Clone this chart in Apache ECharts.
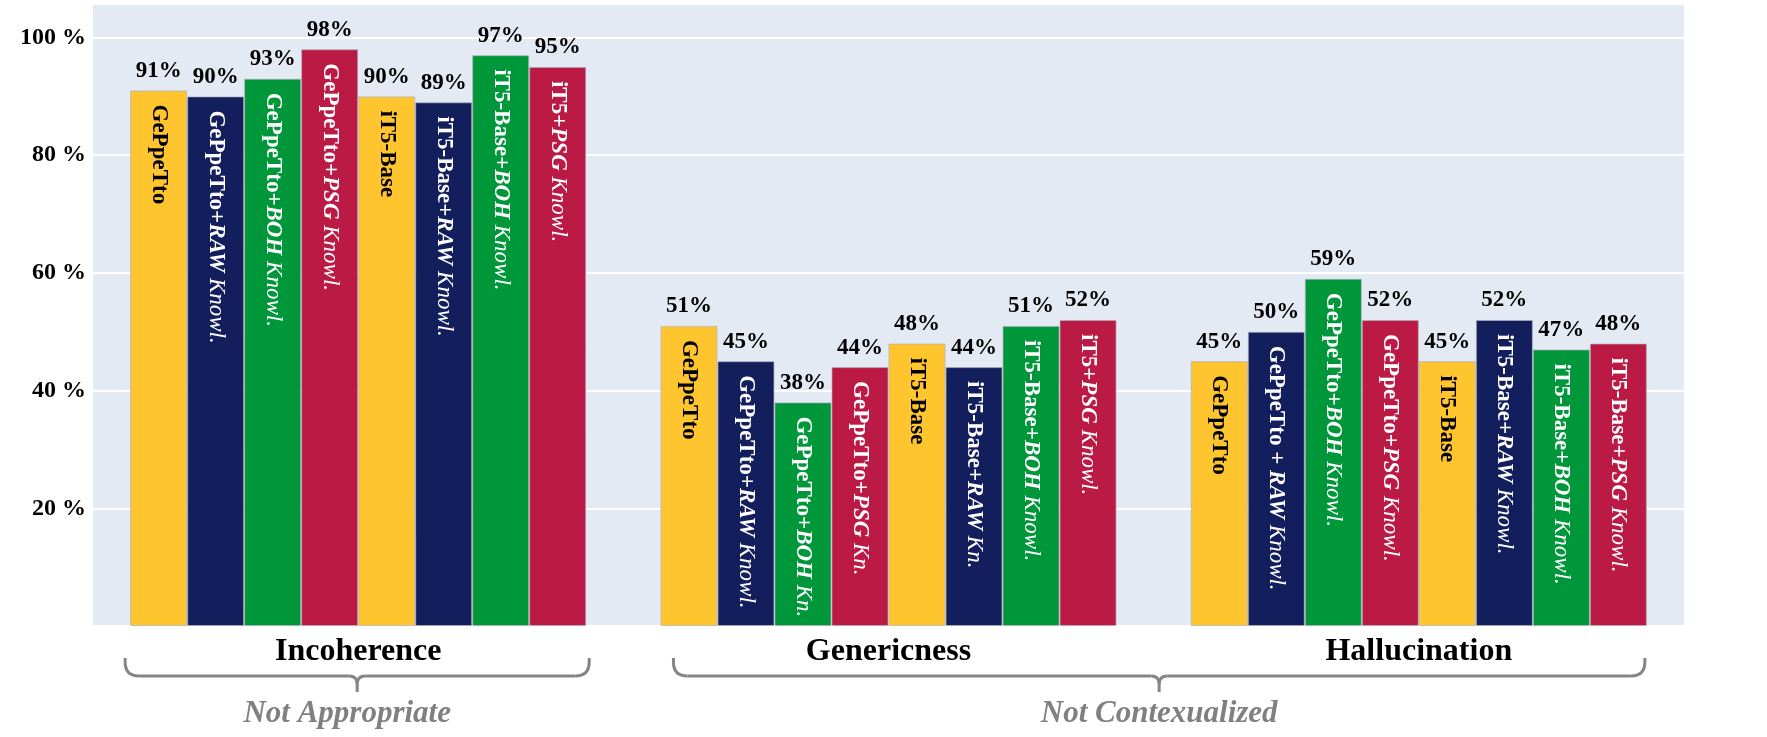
<!DOCTYPE html>
<html>
<head>
<meta charset="utf-8">
<script src="https://cdn.jsdelivr.net/npm/echarts@6/dist/echarts.min.js"></script>
<style>
  html, body { margin: 0; padding: 0; background: #fff; }
  #chart { width: 1767px; height: 737px; }
</style>
</head>
<body>
<div id="chart"></div>
<script>
// categories and values
const categories = ['Incoherence', 'Genericness', 'Hallucination'];
const seriesNames = [
  'GePpeTto', 'GePpeTto+RAW Knowl.', 'GePpeTto+BOH Knowl.', 'GePpeTto+PSG Knowl.',
  'iT5-Base', 'iT5-Base+RAW Knowl.', 'iT5-Base+BOH Knowl.', 'iT5+PSG Knowl.'
];
const gepettoVals    = [91, 51, 45];
const gepettoRawVals = [90, 45, 50];
const gepettoBohVals = [93, 38, 59];
const gepettoPsgVals = [98, 44, 52];
const it5Vals        = [90, 48, 45];
const it5RawVals     = [89, 44, 52];
const it5BohVals     = [97, 51, 47];
const it5PsgVals     = [95, 52, 48];
const yTicks = [20, 40, 60, 80, 100];

// text written inside each bar (b = bold, bi = bold italic, i = italic)
const gepettoText    = ['{b|GePpeTto}', '{b|GePpeTto}', '{b|GePpeTto}'];
const gepettoRawText = ['{b|GePpeTto+}{bi|RAW}{i| Knowl.}', '{b|GePpeTto+}{bi|RAW}{i| Knowl.}', '{b|GePpeTto + }{bi|RAW}{i| Knowl.}'];
const gepettoBohText = ['{b|GePpeTto+}{bi|BOH}{i| Knowl.}', '{b|GePpeTto+}{bi|BOH}{i| Kn.}', '{b|GePpeTto+}{bi|BOH}{i| Knowl.}'];
const gepettoPsgText = ['{b|GePpeTto+}{bi|PSG}{i| Knowl.}', '{b|GePpeTto+}{bi|PSG}{i| Kn.}', '{b|GePpeTto+}{bi|PSG}{i| Knowl.}'];
const it5Text        = ['{b|iT5-Base}', '{b|iT5-Base}', '{b|iT5-Base}'];
const it5RawText     = ['{b|iT5-Base+}{bi|RAW}{i| Knowl.}', '{b|iT5-Base+}{bi|RAW}{i| Kn.}', '{b|iT5-Base+}{bi|RAW}{i| Knowl.}'];
const it5BohText     = ['{b|iT5-Base+}{bi|BOH}{i| Knowl.}', '{b|iT5-Base+}{bi|BOH}{i| Knowl.}', '{b|iT5-Base+}{bi|BOH}{i| Knowl.}'];
const it5PsgText     = ['{b|iT5+}{bi|PSG}{i| Knowl.}', '{b|iT5+}{bi|PSG}{i| Knowl.}', '{b|iT5-Base+}{bi|PSG}{i| Knowl.}'];

const groupNames = ['Not Appropriate', 'Not Contexualized'];

const allVals = [gepettoVals, gepettoRawVals, gepettoBohVals, gepettoPsgVals, it5Vals, it5RawVals, it5BohVals, it5PsgVals];
const allText = [gepettoText, gepettoRawText, gepettoBohText, gepettoPsgText, it5Text, it5RawText, it5BohText, it5PsgText];
const colors = ['#FFC52F', '#131F5D', '#00963A', '#BB1A44', '#FFC52F', '#131F5D', '#00963A', '#BB1A44'];
const textColors = ['#000', '#fff', '#fff', '#fff', '#000', '#fff', '#fff', '#fff'];

const FONT = "'Liberation Serif', 'Times New Roman', serif";
const CAT_GAP = 0.14;
const GRID = { left: 93, right: 83, top: 4, bottom: 111 };

const series = [];
allVals.forEach(function (vals, i) {
  const tc = textColors[i];
  series.push({
    name: seriesNames[i],
    type: 'bar',
    stack: 's' + i,
    data: vals,
    barGap: 0,
    barCategoryGap: (CAT_GAP * 100) + '%',
    itemStyle: { color: colors[i], borderColor: 'rgba(175,175,185,0.7)', borderWidth: 1 },
    label: {
      show: true,
      position: 'insideTop',
      distance: 14,
      rotate: -90,
      align: 'left',
      verticalAlign: 'middle',
      formatter: function (p) { return allText[i][p.dataIndex]; },
      rich: {
        b:  { fontFamily: FONT, fontSize: 23, fontWeight: 'bold', color: tc },
        bi: { fontFamily: FONT, fontSize: 23, fontWeight: 'bold', fontStyle: 'italic', color: tc },
        i:  { fontFamily: FONT, fontSize: 23, fontStyle: 'italic', color: tc }
      }
    }
  });
  // zero-height bar on top of each bar, only to carry the percentage label
  series.push({
    name: seriesNames[i] + ' %',
    type: 'bar',
    stack: 's' + i,
    data: vals.map(function () { return 0; }),
    barGap: 0,
    barCategoryGap: (CAT_GAP * 100) + '%',
    itemStyle: { color: 'transparent' },
    label: {
      show: true,
      position: 'top',
      distance: 8,
      fontFamily: FONT,
      fontSize: 23,
      fontWeight: 'bold',
      color: '#000',
      formatter: function (p) { return vals[p.dataIndex] + '%'; }
    }
  });
});

const chart = echarts.init(document.getElementById('chart'));
chart.setOption({
  animation: false,
  backgroundColor: '#fff',
  grid: Object.assign({ show: true, backgroundColor: '#E4EAF4', borderWidth: 0 }, GRID),
  xAxis: {
    type: 'category',
    data: categories,
    axisLine: { show: false },
    axisTick: { show: false },
    axisLabel: { margin: 10, fontFamily: FONT, fontSize: 32, fontWeight: 'bold', color: '#000' }
  },
  yAxis: {
    type: 'value',
    min: 0,
    max: 105.7,
    interval: 20,
    axisLine: { show: false },
    axisTick: { show: false },
    splitLine: { lineStyle: { color: '#fff', width: 2 } },
    axisLabel: {
      margin: 7,
      fontFamily: FONT,
      fontSize: 24,
      fontWeight: 'bold',
      color: '#000',
      formatter: function (v) { return yTicks.indexOf(v) >= 0 ? v + ' %' : ''; }
    }
  },
  series: series
});

// curly brace under a group, built from lines and quadratic curves
const braceStyle = { stroke: '#858585', lineWidth: 3, fill: null };
function brace(x1, x2, yTop, yH, yTip, r, r2) {
  const xm = (x1 + x2) / 2;
  function ln(a, b, c, d) { return { type: 'line', shape: { x1: a, y1: b, x2: c, y2: d }, style: braceStyle }; }
  function qc(a, b, cx, cy, c, d) {
    return { type: 'bezierCurve', shape: { x1: a, y1: b, cpx1: cx, cpy1: cy, x2: c, y2: d }, style: braceStyle };
  }
  return [
    ln(x1, yTop, x1, yH - r),
    qc(x1, yH - r, x1, yH, x1 + r, yH),
    ln(x1 + r, yH, xm - r2, yH),
    qc(xm - r2, yH, xm, yH, xm, yH + r2),
    ln(xm, yH + r2, xm, yTip),
    qc(xm, yH + r2, xm, yH, xm + r2, yH),
    ln(xm + r2, yH, x2 - r, yH),
    qc(x2 - r, yH, x2, yH, x2, yH - r),
    ln(x2, yH - r, x2, yTop)
  ];
}

const gridW = chart.getWidth() - GRID.left - GRID.right;
const band = gridW / categories.length;
const half = band * (1 - CAT_GAP) / 2;
const cx = categories.map(function (c) { return chart.convertToPixel({ xAxisIndex: 0 }, c); });
const b1 = [cx[0] - half - 5, cx[0] + half + 3];
const b2 = [cx[1] - half + 13, cx[2] + half - 2];

const graphics = brace(b1[0], b1[1], 658, 676, 692, 14, 8)
  .concat(brace(b2[0], b2[1], 658, 676, 692, 14, 8))
  .concat([
    {
      type: 'text', x: (b1[0] + b1[1]) / 2 - 10, y: 714,
      style: { text: groupNames[0], textAlign: 'center', textVerticalAlign: 'middle',
        font: 'italic bold 31px ' + FONT, fill: '#808080' }
    },
    {
      type: 'text', x: (b2[0] + b2[1]) / 2, y: 714,
      style: { text: groupNames[1], textAlign: 'center', textVerticalAlign: 'middle',
        font: 'italic bold 31px ' + FONT, fill: '#808080' }
    }
  ]);

chart.setOption({ graphic: graphics });
</script>
</body>
</html>
